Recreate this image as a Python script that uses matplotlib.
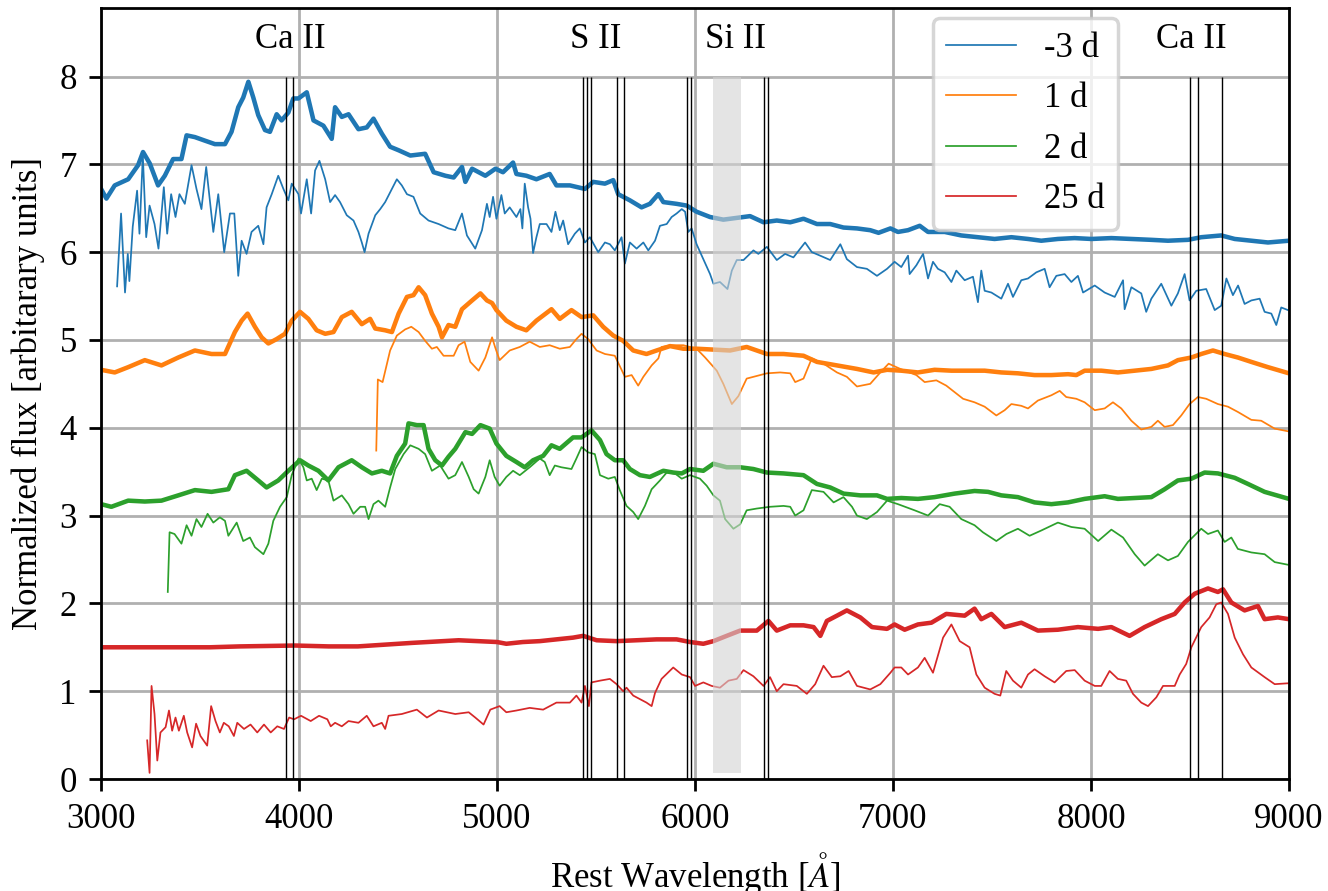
import matplotlib
matplotlib.use("Agg")
import matplotlib.pyplot as plt

plt.rcParams['font.family'] = ['Liberation Serif', 'DejaVu Serif']
plt.rcParams['mathtext.fontset'] = 'stix'
plt.rcParams['font.size'] = 10

# ---------------- data ----------------
# -3 d model (thick)
m3_mod_w = [3000, 3027, 3069, 3137, 3187, 3212, 3246, 3288, 3322, 3364, 3406, 3432, 3474, 3524, 3575, 3626,
            3659, 3693, 3718, 3744, 3769, 3794, 3828, 3853, 3887, 3912, 3946, 3971, 3997, 4039, 4073, 4123,
            4165, 4182, 4216, 4250, 4300, 4342, 4376, 4418, 4460, 4503, 4562, 4637, 4680, 4739, 4781, 4823,
            4840, 4874, 4941, 4992, 5030, 5081, 5098, 5148, 5199, 5266, 5300, 5368, 5444, 5486, 5545, 5587,
            5612, 5671, 5730, 5772, 5815, 5840, 5907, 5958, 6008, 6076, 6143, 6211, 6278, 6346, 6413, 6481,
            6548, 6616, 6683, 6750, 6818, 6885, 6927, 6987, 7025, 7076, 7135, 7177, 7261, 7345, 7429, 7513,
            7598, 7682, 7749, 7833, 7917, 8002, 8103, 8204, 8305, 8389, 8490, 8557, 8658, 8726, 8810, 8894, 9000]
m3_mod_f = [6.72, 6.61, 6.76, 6.83, 6.99, 7.14, 7.01, 6.76, 6.87, 7.06, 7.06, 7.33, 7.31, 7.27, 7.23, 7.23,
            7.37, 7.65, 7.76, 7.94, 7.76, 7.56, 7.39, 7.37, 7.57, 7.50, 7.59, 7.75, 7.75, 7.82, 7.50, 7.44,
            7.29, 7.65, 7.54, 7.57, 7.40, 7.42, 7.52, 7.35, 7.20, 7.16, 7.10, 7.12, 6.91, 6.87, 6.85, 6.97,
            6.80, 6.95, 6.87, 6.95, 6.91, 7.02, 6.89, 6.87, 6.83, 6.89, 6.76, 6.76, 6.72, 6.80, 6.78, 6.82,
            6.66, 6.59, 6.51, 6.55, 6.66, 6.57, 6.55, 6.53, 6.46, 6.40, 6.37, 6.39, 6.41, 6.34, 6.36, 6.34,
            6.38, 6.32, 6.32, 6.28, 6.27, 6.25, 6.22, 6.27, 6.23, 6.25, 6.30, 6.23, 6.23, 6.19, 6.17, 6.15,
            6.17, 6.15, 6.13, 6.15, 6.16, 6.15, 6.16, 6.15, 6.14, 6.13, 6.14, 6.17, 6.19, 6.15, 6.13, 6.11, 6.13]

# -3 d observed (thin)
m3_obs_w = [3081, 3101, 3121, 3135, 3143, 3160, 3182, 3194, 3211, 3228, 3245, 3270, 3290, 3317, 3334, 3354,
            3376, 3396, 3423, 3457, 3482, 3507, 3531, 3567, 3592, 3622, 3651, 3673, 3693, 3710, 3735, 3760,
            3794, 3820, 3836, 3862, 3895, 3921, 3946, 3963, 3997, 4010, 4039, 4061, 4081, 4103, 4132, 4157,
            4182, 4207, 4241, 4275, 4300, 4317, 4331, 4351, 4385, 4410, 4435, 4460, 4494, 4519, 4545, 4578,
            4612, 4654, 4705, 4755, 4789, 4823, 4848, 4890, 4924, 4949, 4963, 4980, 4997, 5022, 5039, 5064,
            5098, 5118, 5128, 5140, 5157, 5169, 5182, 5199, 5216, 5250, 5275, 5295, 5317, 5334, 5359, 5393,
            5418, 5444, 5469, 5511, 5545, 5570, 5595, 5629, 5646, 5671, 5705, 5739, 5764, 5798, 5823, 5857,
            5882, 5907, 5933, 5950, 5966, 5983, 6008, 6042, 6076, 6093, 6126, 6164, 6186, 6211, 6245, 6295,
            6320, 6363, 6413, 6455, 6497, 6556, 6590, 6632, 6683, 6734, 6767, 6818, 6868, 6919, 6970, 7008,
            7042, 7076, 7084, 7118, 7152, 7177, 7202, 7227, 7261, 7295, 7320, 7362, 7404, 7429, 7446, 7463,
            7497, 7547, 7581, 7606, 7648, 7682, 7724, 7766, 7791, 7825, 7867, 7901, 7934, 7960, 8019, 8069,
            8120, 8162, 8170, 8204, 8254, 8279, 8305, 8355, 8406, 8439, 8473, 8498, 8532, 8582, 8625, 8658,
            8684, 8717, 8743, 8776, 8810, 8852, 8877, 8911, 8936, 8961, 8995]
m3_obs_f = [5.61, 6.44, 5.54, 5.98, 5.67, 6.29, 6.70, 6.21, 7.10, 6.17, 6.53, 6.32, 6.04, 6.74, 6.21, 6.66,
            6.40, 6.66, 6.55, 6.99, 6.72, 6.49, 6.97, 6.23, 6.66, 6.00, 6.44, 6.44, 5.73, 6.13, 5.98, 6.23,
            6.30, 6.09, 6.51, 6.66, 6.87, 6.72, 6.59, 6.78, 6.66, 6.44, 6.83, 6.44, 6.93, 7.04, 6.83, 6.57,
            6.65, 6.57, 6.42, 6.36, 6.23, 6.11, 6.00, 6.21, 6.42, 6.49, 6.57, 6.68, 6.83, 6.76, 6.66, 6.63,
            6.44, 6.36, 6.32, 6.27, 6.25, 6.44, 6.19, 6.04, 6.25, 6.55, 6.40, 6.63, 6.38, 6.65, 6.44, 6.51,
            6.40, 6.49, 6.27, 6.78, 6.51, 6.38, 5.99, 6.17, 6.32, 6.32, 6.23, 6.46, 6.25, 6.36, 6.09, 6.21,
            6.27, 6.11, 6.17, 6.00, 6.11, 6.09, 6.02, 6.17, 5.87, 6.11, 6.04, 6.11, 6.02, 6.13, 6.30, 6.32,
            6.40, 6.44, 6.49, 6.46, 6.23, 6.27, 6.09, 5.92, 5.75, 5.64, 5.66, 5.58, 5.79, 5.91, 5.91, 6.02,
            5.98, 6.06, 5.91, 5.98, 5.94, 6.11, 6.00, 5.96, 5.91, 6.09, 5.92, 5.83, 5.81, 5.73, 5.81, 5.89,
            5.83, 5.96, 5.75, 5.85, 5.98, 5.70, 5.89, 5.81, 5.77, 5.66, 5.79, 5.68, 5.72, 5.43, 5.79, 5.56,
            5.54, 5.47, 5.64, 5.49, 5.68, 5.70, 5.77, 5.81, 5.60, 5.73, 5.75, 5.66, 5.73, 5.54, 5.62, 5.54,
            5.49, 5.68, 5.35, 5.60, 5.53, 5.32, 5.47, 5.64, 5.39, 5.53, 5.75, 5.45, 5.56, 5.58, 5.34, 5.39,
            5.70, 5.51, 5.62, 5.41, 5.45, 5.47, 5.32, 5.30, 5.17, 5.37, 5.34]

# 1 d model (thick)
p1_mod_w = [3000, 3069, 3137, 3221, 3305, 3390, 3474, 3558, 3626, 3676, 3710, 3740, 3777, 3811, 3845, 3887,
            3929, 3963, 4005, 4047, 4089, 4132, 4174, 4216, 4266, 4317, 4359, 4385, 4435, 4469, 4503, 4545,
            4578, 4604, 4637, 4671, 4705, 4722, 4755, 4789, 4823, 4874, 4916, 4949, 4975, 4997, 5047, 5098,
            5148, 5199, 5275, 5317, 5376, 5427, 5486, 5536, 5587, 5637, 5688, 5755, 5806, 5874, 5941, 6008,
            6093, 6177, 6261, 6363, 6447, 6548, 6616, 6717, 6818, 6902, 6970, 7042, 7126, 7210, 7295, 7379,
            7463, 7547, 7631, 7715, 7800, 7884, 7926, 7968, 8052, 8136, 8221, 8305, 8389, 8439, 8507, 8557,
            8616, 8675, 8742, 8810, 8894, 9000]
p1_mod_f = [4.66, 4.63, 4.69, 4.77, 4.71, 4.80, 4.88, 4.84, 4.84, 5.09, 5.22, 5.30, 5.15, 5.03, 4.96, 5.01,
            5.07, 5.22, 5.32, 5.24, 5.11, 5.07, 5.09, 5.26, 5.32, 5.18, 5.24, 5.13, 5.11, 5.09, 5.30, 5.49,
            5.51, 5.60, 5.51, 5.30, 5.15, 5.03, 5.17, 5.15, 5.35, 5.45, 5.53, 5.45, 5.42, 5.34, 5.22, 5.15,
            5.11, 5.22, 5.35, 5.24, 5.34, 5.26, 5.28, 5.15, 5.05, 4.99, 4.88, 4.84, 4.88, 4.93, 4.90, 4.90,
            4.89, 4.88, 4.92, 4.84, 4.84, 4.82, 4.75, 4.71, 4.67, 4.63, 4.66, 4.65, 4.63, 4.66, 4.65, 4.65,
            4.65, 4.63, 4.62, 4.60, 4.60, 4.61, 4.60, 4.65, 4.65, 4.63, 4.65, 4.67, 4.71, 4.77, 4.80, 4.84,
            4.88, 4.84, 4.80, 4.75, 4.69, 4.62]

# 1 d observed (thin)
p1_obs_w = [4390, 4398, 4422, 4460, 4494, 4536, 4567, 4604, 4637, 4671, 4696, 4730, 4781, 4806, 4836, 4865,
            4907, 4941, 4975, 4990, 5013, 5064, 5115, 5165, 5216, 5266, 5317, 5368, 5401, 5427, 5460, 5503,
            5545, 5595, 5646, 5680, 5713, 5739, 5781, 5815, 5831, 5882, 5941, 6008, 6051, 6110, 6143, 6186,
            6219, 6261, 6312, 6363, 6430, 6481, 6506, 6548, 6590, 6649, 6717, 6767, 6818, 6885, 6936, 6978,
            7037, 7118, 7160, 7219, 7269, 7303, 7354, 7412, 7463, 7522, 7564, 7598, 7648, 7682, 7732, 7800,
            7842, 7875, 7926, 7968, 8019, 8069, 8111, 8153, 8204, 8254, 8305, 8338, 8372, 8414, 8456, 8498,
            8540, 8582, 8641, 8692, 8742, 8810, 8860, 8928, 8995]
p1_obs_f = [3.74, 4.55, 4.52, 4.88, 5.05, 5.12, 5.15, 5.09, 4.99, 4.90, 4.92, 4.82, 4.82, 4.94, 4.98, 4.75,
            4.65, 4.80, 5.03, 4.92, 4.77, 4.88, 4.92, 4.98, 4.92, 4.94, 4.90, 4.92, 5.01, 5.07, 5.01, 4.88,
            4.84, 4.82, 4.58, 4.60, 4.48, 4.58, 4.71, 4.79, 4.92, 4.94, 4.94, 4.90, 4.80, 4.65, 4.50, 4.27,
            4.36, 4.56, 4.59, 4.62, 4.63, 4.62, 4.52, 4.56, 4.79, 4.73, 4.63, 4.58, 4.47, 4.50, 4.63, 4.73,
            4.67, 4.60, 4.52, 4.54, 4.48, 4.42, 4.33, 4.29, 4.24, 4.14, 4.20, 4.27, 4.25, 4.22, 4.31, 4.37,
            4.42, 4.35, 4.33, 4.29, 4.20, 4.22, 4.29, 4.22, 4.08, 3.98, 4.01, 4.08, 4.01, 4.03, 4.14, 4.27,
            4.35, 4.33, 4.27, 4.24, 4.18, 4.09, 4.08, 3.99, 3.96]

# 2 d model (thick)
p2_mod_w = [3000, 3052, 3137, 3221, 3305, 3390, 3474, 3558, 3643, 3676, 3735, 3794, 3836, 3895, 3946, 4005,
            4047, 4098, 4148, 4199, 4266, 4317, 4368, 4418, 4460, 4494, 4536, 4553, 4595, 4629, 4654, 4688,
            4722, 4755, 4789, 4840, 4874, 4916, 4963, 4997, 5047, 5098, 5140, 5182, 5233, 5275, 5317, 5384,
            5427, 5477, 5520, 5553, 5595, 5637, 5671, 5722, 5772, 5840, 5890, 5933, 5975, 6042, 6093, 6160,
            6228, 6295, 6363, 6447, 6548, 6616, 6683, 6750, 6835, 6919, 6970, 7042, 7126, 7210, 7311, 7412,
            7480, 7547, 7631, 7715, 7800, 7884, 7968, 8069, 8136, 8221, 8305, 8372, 8439, 8507, 8574, 8641,
            8726, 8793, 8877, 9000]
p2_mod_f = [3.13, 3.10, 3.17, 3.16, 3.17, 3.23, 3.29, 3.27, 3.30, 3.46, 3.51, 3.40, 3.32, 3.40, 3.51, 3.63,
            3.57, 3.51, 3.40, 3.55, 3.63, 3.55, 3.48, 3.51, 3.48, 3.68, 3.82, 4.05, 4.03, 4.03, 3.76, 3.63,
            3.57, 3.67, 3.76, 3.95, 3.93, 4.03, 3.99, 3.82, 3.68, 3.61, 3.55, 3.63, 3.68, 3.80, 3.76, 3.89,
            3.89, 3.97, 3.86, 3.70, 3.63, 3.63, 3.53, 3.46, 3.44, 3.51, 3.49, 3.48, 3.53, 3.51, 3.59, 3.55,
            3.55, 3.53, 3.49, 3.48, 3.46, 3.36, 3.32, 3.25, 3.23, 3.23, 3.19, 3.20, 3.19, 3.21, 3.25, 3.28,
            3.27, 3.23, 3.21, 3.15, 3.13, 3.15, 3.19, 3.22, 3.19, 3.20, 3.21, 3.30, 3.40, 3.42, 3.49, 3.48,
            3.43, 3.36, 3.27, 3.19]

# 2 d observed (thin)
p2_obs_w = [3337, 3346, 3371, 3406, 3432, 3457, 3482, 3507, 3538, 3567, 3600, 3626, 3643, 3685, 3718, 3752,
            3777, 3820, 3845, 3870, 3904, 3938, 3963, 3997, 4022, 4039, 4064, 4089, 4115, 4148, 4174, 4216,
            4250, 4275, 4309, 4334, 4351, 4376, 4401, 4435, 4460, 4486, 4528, 4562, 4604, 4637, 4671, 4713,
            4755, 4789, 4823, 4857, 4882, 4907, 4941, 4963, 4988, 5013, 5047, 5081, 5115, 5165, 5216, 5241,
            5266, 5292, 5325, 5376, 5401, 5427, 5460, 5494, 5520, 5562, 5595, 5620, 5654, 5688, 5713, 5747,
            5781, 5823, 5857, 5899, 5933, 5975, 6025, 6059, 6093, 6126, 6152, 6194, 6228, 6261, 6312, 6379,
            6447, 6481, 6506, 6548, 6590, 6649, 6700, 6750, 6793, 6818, 6868, 6919, 6970, 7025, 7109, 7177,
            7236, 7286, 7345, 7412, 7454, 7522, 7573, 7631, 7690, 7749, 7833, 7901, 7968, 8036, 8103, 8162,
            8221, 8271, 8338, 8389, 8439, 8490, 8557, 8591, 8641, 8675, 8709, 8742, 8810, 8877, 8928, 8995]
p2_obs_f = [2.13, 2.81, 2.79, 2.68, 2.89, 2.77, 2.96, 2.87, 3.02, 2.92, 2.98, 2.94, 2.77, 2.92, 2.71, 2.75,
            2.64, 2.56, 2.68, 2.94, 3.10, 3.21, 3.46, 3.65, 3.55, 3.40, 3.42, 3.29, 3.42, 3.40, 3.17, 3.23,
            3.13, 3.02, 3.10, 3.10, 2.96, 3.13, 3.17, 3.10, 3.32, 3.53, 3.70, 3.80, 3.76, 3.70, 3.51, 3.57,
            3.42, 3.46, 3.61, 3.44, 3.30, 3.25, 3.44, 3.63, 3.44, 3.34, 3.44, 3.51, 3.46, 3.55, 3.65, 3.61,
            3.46, 3.57, 3.55, 3.53, 3.65, 3.78, 3.72, 3.70, 3.46, 3.42, 3.44, 3.29, 3.11, 3.04, 2.96, 3.11,
            3.30, 3.40, 3.49, 3.48, 3.42, 3.46, 3.42, 3.34, 3.23, 3.17, 2.96, 2.85, 2.90, 3.06, 3.08, 3.10,
            3.11, 3.10, 3.00, 3.06, 3.29, 3.27, 3.15, 3.21, 3.10, 3.00, 2.96, 3.04, 3.17, 3.13, 3.06, 3.00,
            3.13, 3.10, 2.96, 2.89, 2.81, 2.71, 2.79, 2.85, 2.77, 2.83, 2.92, 2.87, 2.85, 2.71, 2.84, 2.75,
            2.56, 2.43, 2.56, 2.49, 2.54, 2.70, 2.85, 2.79, 2.83, 2.70, 2.75, 2.62, 2.58, 2.56, 2.47, 2.44]

# 25 d model (thick)
p25_mod_w = [3000, 3550, 3700, 3980, 4150, 4297, 4570, 4806, 5000, 5047, 5131, 5216, 5300, 5384, 5435, 5503,
             5604, 5705, 5806, 5907, 5975, 6042, 6093, 6160, 6228, 6312, 6371, 6413, 6481, 6548, 6599, 6633,
             6666, 6717, 6767, 6835, 6894, 6970, 7008, 7059, 7126, 7194, 7269, 7362, 7412, 7446, 7497, 7564,
             7648, 7732, 7833, 7934, 8036, 8103, 8195, 8271, 8355, 8423, 8473, 8524, 8591, 8641, 8667, 8709,
             8776, 8843, 8877, 8944, 9000]
p25_mod_f = [1.50, 1.50, 1.51, 1.52, 1.51, 1.51, 1.55, 1.58, 1.56, 1.54, 1.56, 1.57, 1.59, 1.61, 1.63, 1.58,
             1.57, 1.58, 1.59, 1.59, 1.56, 1.54, 1.57, 1.63, 1.69, 1.69, 1.80, 1.69, 1.75, 1.75, 1.73, 1.63,
             1.80, 1.86, 1.92, 1.84, 1.73, 1.71, 1.76, 1.70, 1.76, 1.78, 1.88, 1.86, 1.94, 1.82, 1.88, 1.73,
             1.78, 1.69, 1.70, 1.73, 1.71, 1.73, 1.63, 1.73, 1.82, 1.88, 2.01, 2.11, 2.17, 2.13, 2.16, 2.01,
             1.92, 1.97, 1.82, 1.84, 1.82]

# 25 d observed (thin)
p25_obs_w = [3233, 3245, 3255, 3270, 3284, 3300, 3326, 3343, 3359, 3376, 3393, 3418, 3435, 3460, 3480, 3502,
             3536, 3556, 3578, 3600, 3620, 3645, 3671, 3688, 3722, 3755, 3789, 3823, 3857, 3890, 3924, 3950,
             3975, 4010, 4059, 4101, 4143, 4160, 4182, 4216, 4250, 4300, 4342, 4376, 4418, 4435, 4452, 4519,
             4595, 4646, 4705, 4789, 4857, 4890, 4932, 4966, 5013, 5047, 5098, 5165, 5233, 5300, 5368, 5401,
             5427, 5444, 5464, 5477, 5520, 5570, 5604, 5637, 5654, 5688, 5722, 5755, 5781, 5798, 5831, 5890,
             5933, 5975, 6000, 6042, 6084, 6126, 6169, 6211, 6245, 6295, 6346, 6379, 6413, 6447, 6514, 6565,
             6607, 6649, 6691, 6734, 6776, 6818, 6885, 6936, 6987, 7008, 7042, 7076, 7126, 7160, 7202, 7253,
             7295, 7337, 7387, 7421, 7463, 7513, 7542, 7572, 7606, 7648, 7682, 7715, 7766, 7816, 7875, 7918,
             7968, 8019, 8052, 8094, 8136, 8178, 8212, 8254, 8288, 8330, 8364, 8423, 8448, 8481, 8507, 8557,
             8599, 8633, 8658, 8692, 8726, 8768, 8810, 8877, 8928, 8995]
p25_obs_f = [0.44, 0.07, 1.06, 0.74, 0.21, 0.53, 0.59, 0.78, 0.55, 0.70, 0.55, 0.72, 0.53, 0.36, 0.63, 0.49,
             0.38, 0.83, 0.66, 0.53, 0.64, 0.60, 0.49, 0.64, 0.57, 0.62, 0.53, 0.62, 0.53, 0.60, 0.57, 0.70,
             0.68, 0.72, 0.66, 0.72, 0.68, 0.60, 0.64, 0.60, 0.66, 0.64, 0.72, 0.60, 0.64, 0.57, 0.72, 0.74,
             0.79, 0.70, 0.78, 0.74, 0.76, 0.70, 0.62, 0.79, 0.83, 0.76, 0.78, 0.81, 0.79, 0.87, 0.87, 0.95,
             0.87, 1.06, 0.83, 1.10, 1.12, 1.14, 1.08, 1.00, 1.04, 0.95, 0.91, 0.87, 0.83, 0.98, 1.14, 1.27,
             1.19, 1.16, 1.06, 1.10, 1.06, 1.04, 1.12, 1.14, 1.24, 1.17, 1.06, 1.16, 1.00, 1.08, 1.06, 0.97,
             1.08, 1.29, 1.16, 1.17, 1.23, 1.06, 1.02, 1.08, 1.21, 1.27, 1.27, 1.19, 1.27, 1.38, 1.21, 1.61,
             1.76, 1.57, 1.50, 1.19, 1.04, 0.97, 0.95, 1.23, 1.12, 1.04, 1.19, 1.25, 1.17, 1.10, 1.23, 1.24,
             1.12, 1.06, 1.06, 1.23, 1.14, 1.12, 0.97, 0.87, 0.83, 0.93, 1.06, 1.06, 1.19, 1.31, 1.50, 1.73,
             1.84, 1.99, 2.01, 1.88, 1.61, 1.42, 1.27, 1.16, 1.08, 1.09]

labels = ['-3 d', '1 d', '2 d', '25 d']
colors = ['#1f77b4', '#ff7f0e', '#2ca02c', '#d62728']

# line identifications
line_waves = [3934, 3968, 5433, 5454, 5473, 5606, 5640, 5958, 5979, 6347, 6371, 8498, 8542, 8662]
ion_labels = ['Ca II', 'S II', 'Si II', 'Ca II']
ion_label_x = [3955, 5500, 6207, 8505]
span_range = (6090, 6230)

# ---------------- plot ----------------
fig = plt.figure(figsize=(5.312, 3.564), dpi=250)
ax = fig.add_axes([0.0761, 0.1257, 0.9706 - 0.0761, 0.991 - 0.1257])

models = [(m3_mod_w, m3_mod_f), (p1_mod_w, p1_mod_f), (p2_mod_w, p2_mod_f), (p25_mod_w, p25_mod_f)]
obs = [(m3_obs_w, m3_obs_f), (p1_obs_w, p1_obs_f), (p2_obs_w, p2_obs_f), (p25_obs_w, p25_obs_f)]

for (mw, mf), (ow, of), c, lab in zip(models, obs, colors, labels):
    ax.plot(mw, mf, color=c, lw=1.3, zorder=2.2)
    ax.plot(ow, of, color=c, lw=0.5, label=lab, zorder=2.1)

ax.vlines(line_waves, 0, 8, color='k', lw=0.4, zorder=2.5)
ax.fill_between(span_range, 0.07, 8.0, color='lightgray', alpha=0.6, lw=0, zorder=3)

for x, t in zip(ion_label_x, ion_labels):
    ax.text(x, 8.32, t, ha='center', va='baseline')

ax.set_xlim(3000, 9000)
ax.set_ylim(0, 8.78)
ax.set_xticks([3000, 4000, 5000, 6000, 7000, 8000, 9000])
ax.set_yticks(range(0, 9))
ax.grid(True)
ax.set_xlabel('Rest Wavelength [$\\AA$]')
ax.set_ylabel('Normalized flux [arbitarary units]')

ax.legend(loc='upper left', bbox_to_anchor=(0.700, 0.987), borderaxespad=0)

fig.savefig('out.png', dpi=250)
